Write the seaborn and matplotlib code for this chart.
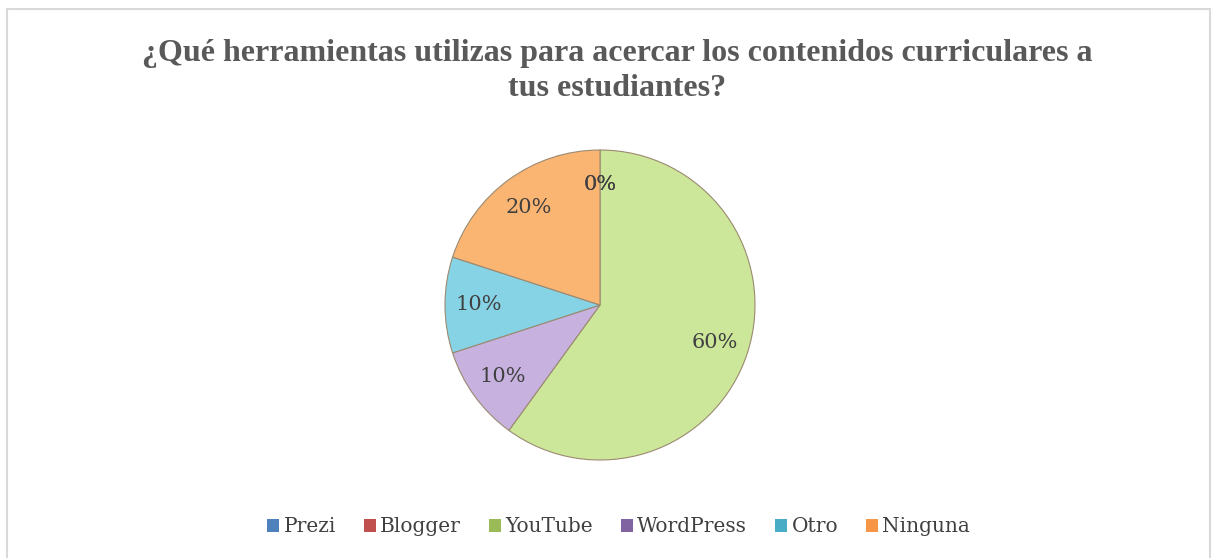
import matplotlib.pyplot as plt
import seaborn as sns
from matplotlib.patches import Rectangle

# Data
categories = ["Prezi", "Blogger", "YouTube", "WordPress", "Otro", "Ninguna"]
values = [0, 0, 60, 10, 10, 20]
colors = ["#4f81bd", "#c0504d", "#cde79a", "#c7b2df", "#86d3e6", "#fbb573"]
legend_colors = ["#4f81bd", "#c0504d", "#9bbb59", "#8064a2", "#4bacc6", "#f79646"]

sns.set_theme(style="white")
plt.rcParams['font.family'] = ['Liberation Serif', 'DejaVu Serif']

fig = plt.figure(figsize=(12.18, 5.58), dpi=100)
fig.patch.set_facecolor("white")

# light frame
fig.patches.append(Rectangle((7 / 1218, -0.05), (1210 - 7) / 1218, 1 - 9 / 558 + 0.05,
                             transform=fig.transFigure, fill=False,
                             edgecolor="#d9d9d9", linewidth=1.5))

fig.text(0.507, 0.873, "¿Qué herramientas utilizas para acercar los contenidos curriculares a\ntus estudiantes?",
         ha="center", va="center", fontsize=23, fontweight="bold", color="#595959",
         linespacing=1.25)

ax = fig.add_axes([(600 - 155) / 1218, 1 - (305 + 155) / 558, 310 / 1218, 310 / 558])
wedges, texts, autotexts = ax.pie(
    values, colors=colors, startangle=90, counterclock=False,
    autopct="%1.0f%%", pctdistance=0.78,
    wedgeprops=dict(edgecolor="#9a8a70", linewidth=0.8),
    textprops=dict(fontsize=15, color="#404040", family="DejaVu Serif"))
ax.set_xlim(-1, 1)
ax.set_ylim(-1, 1)
ax.set_aspect("equal")

handles = [Rectangle((0, 0), 1, 1, facecolor=c, edgecolor="none") for c in legend_colors]
fig.legend(handles, categories, loc="center", bbox_to_anchor=(0.508, 0.056), ncol=6,
           frameon=False, prop=dict(family="DejaVu Serif", size=14.5),
           handlelength=0.6, handleheight=0.6,
           handletextpad=0.2, columnspacing=1.4, labelcolor="#404040")

fig.savefig("out.png", dpi=100)
